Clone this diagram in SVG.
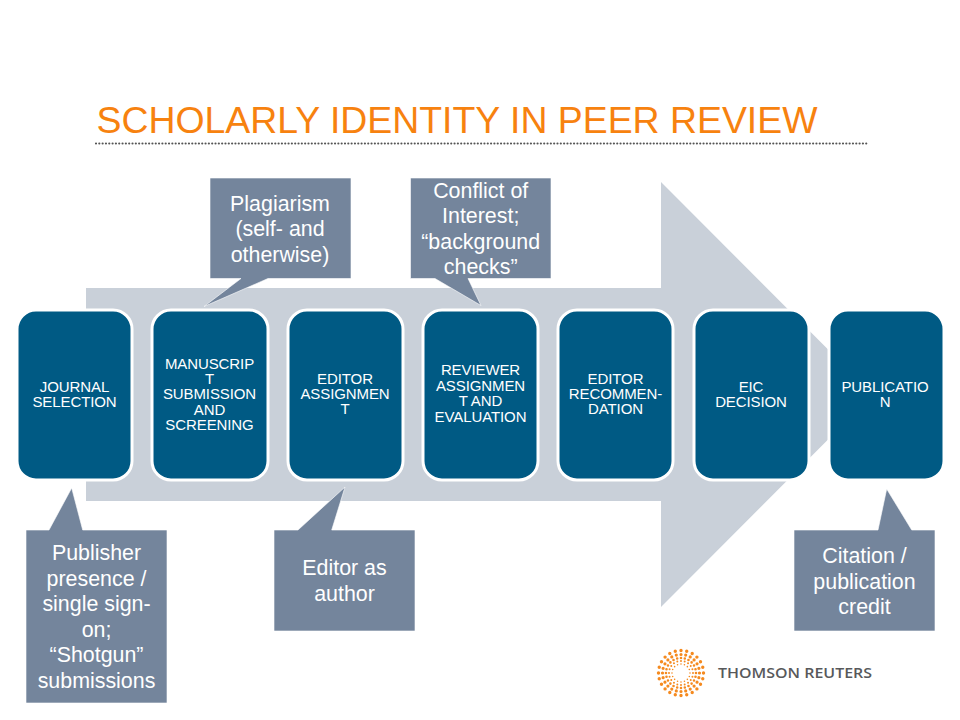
<svg xmlns="http://www.w3.org/2000/svg" width="960" height="720" viewBox="0 0 960 720">
<style>
text{font-family:"Liberation Sans",Arial,sans-serif;text-anchor:middle}
.n rect{fill:#005a84;stroke:#fff;stroke-width:3}
.n text{fill:#fff;font-size:15px;letter-spacing:-0.1px}
.c path{fill:#74859c;stroke:#fff;stroke-width:0.6}
.c text{fill:#fff;font-size:21.4px}
.d{fill:none;stroke:#f58a1f;stroke-linecap:round;stroke-dasharray:0 1}
</style>
<rect width="960" height="720" fill="#fff"/>
<text id="title" x="457" y="132.500" style="font-size:37.400px;text-anchor:middle" fill="#f7820f">SCHOLARLY IDENTITY IN PEER REVIEW</text>
<line x1="96" y1="143.500" x2="867" y2="143.500" stroke="#555" stroke-width="2.200" stroke-linecap="round" stroke-dasharray="0 3.320"/>
<g id="connectors">
<path d="M86 288H661V182L873 394.500L661 607V501H86Z" fill="#c9d0d9"/>
</g>
<g id="node-journal" class="n"><rect x="17" y="310" width="115" height="170" rx="19"/><text x="74.500" y="391.700">JOURNAL</text><text x="74.500" y="406.700">SELECTION</text></g>
<g id="node-manuscript" class="n"><rect x="152" y="310" width="116" height="170" rx="19"/><text x="209.500" y="369">MANUSCRIP</text><text x="209.500" y="384">T</text><text x="209.500" y="399.300">SUBMISSION</text><text x="209.500" y="414.500">AND</text><text x="209.500" y="430">SCREENING</text></g>
<g id="node-editor" class="n"><rect x="288" y="310" width="115" height="170" rx="19"/><text x="345" y="384">EDITOR</text><text x="345" y="399">ASSIGNMEN</text><text x="345" y="414">T</text></g>
<g id="node-reviewer" class="n"><rect x="423" y="310" width="115" height="170" rx="19"/><text x="480.500" y="375">REVIEWER</text><text x="480.500" y="390.700">ASSIGNMEN</text><text x="480.500" y="405.700">T AND</text><text x="480.500" y="421.700">EVALUATION</text></g>
<g id="node-recommendation" class="n"><rect x="558" y="310" width="115" height="170" rx="19"/><text x="615.500" y="383.500">EDITOR</text><text x="615.500" y="399">RECOMMEN-</text><text x="615.500" y="413.500">DATION</text></g>
<g id="node-eic" class="n"><rect x="694" y="310" width="115" height="170" rx="19"/><text x="751" y="391.700">EIC</text><text x="751" y="406.700">DECISION</text></g>
<g id="node-publication" class="n"><rect x="829" y="310" width="115" height="170" rx="19"/><text x="885" y="391.700">PUBLICATIO</text><text x="885" y="406.700">N</text></g>
<g id="callout-plagiarism" class="c"><path d="M210 178H351V278.500H268L204 306.500L241 278.500H210Z"/><text x="280" y="211">Plagiarism</text><text x="280" y="236.300">(self- and</text><text x="280" y="261.700">otherwise)</text></g>
<g id="callout-conflict" class="c"><path d="M410.500 178H551V278.500H468L481 305.500L435 278.500H410.500Z"/><text x="480.700" y="198">Conflict of</text><text x="480.700" y="223">Interest;</text><text x="480.700" y="249">“background</text><text x="480.700" y="274">checks”</text></g>
<g id="callout-publisher" class="c"><path d="M26 530H49L71.700 488L82.700 530H167V703H26Z"/><text x="96.500" y="560">Publisher</text><text x="96.500" y="585.500">presence /</text><text x="96.500" y="611">single sign-</text><text x="96.500" y="636.500">on;</text><text x="96.500" y="662">“Shotgun”</text><text x="96.500" y="688">submissions</text></g>
<g id="callout-editor" class="c"><path d="M274 530H298L345 487L331.700 530H415V631H274Z"/><text x="344.500" y="575">Editor as</text><text x="344.500" y="600.500">author</text></g>
<g id="callout-citation" class="c"><path d="M794 530H878L886.700 489L911.700 530H935V631H794Z"/><text x="864.500" y="563">Citation /</text><text x="864.500" y="588.500">publication</text><text x="864.500" y="614">credit</text></g>
<g id="logo">
<circle class="d" cx="681" cy="673" r="9" pathLength="16" stroke-width="1.600"/>
<circle class="d" cx="681" cy="673" r="12" pathLength="20" stroke-width="2"/>
<circle class="d" cx="681" cy="673" r="15" pathLength="24" stroke-width="2.600"/>
<circle class="d" cx="681" cy="673" r="18.500" pathLength="24" stroke-width="3.200"/>
<circle class="d" cx="681" cy="673" r="22.500" pathLength="24" stroke-width="3.400"/>
<text x="795" y="678" textLength="154" lengthAdjust="spacingAndGlyphs" style="font-family:'Open Sans',sans-serif;font-weight:600;font-size:15px" fill="#58595b">THOMSON REUTERS</text>
</g>
</svg>
